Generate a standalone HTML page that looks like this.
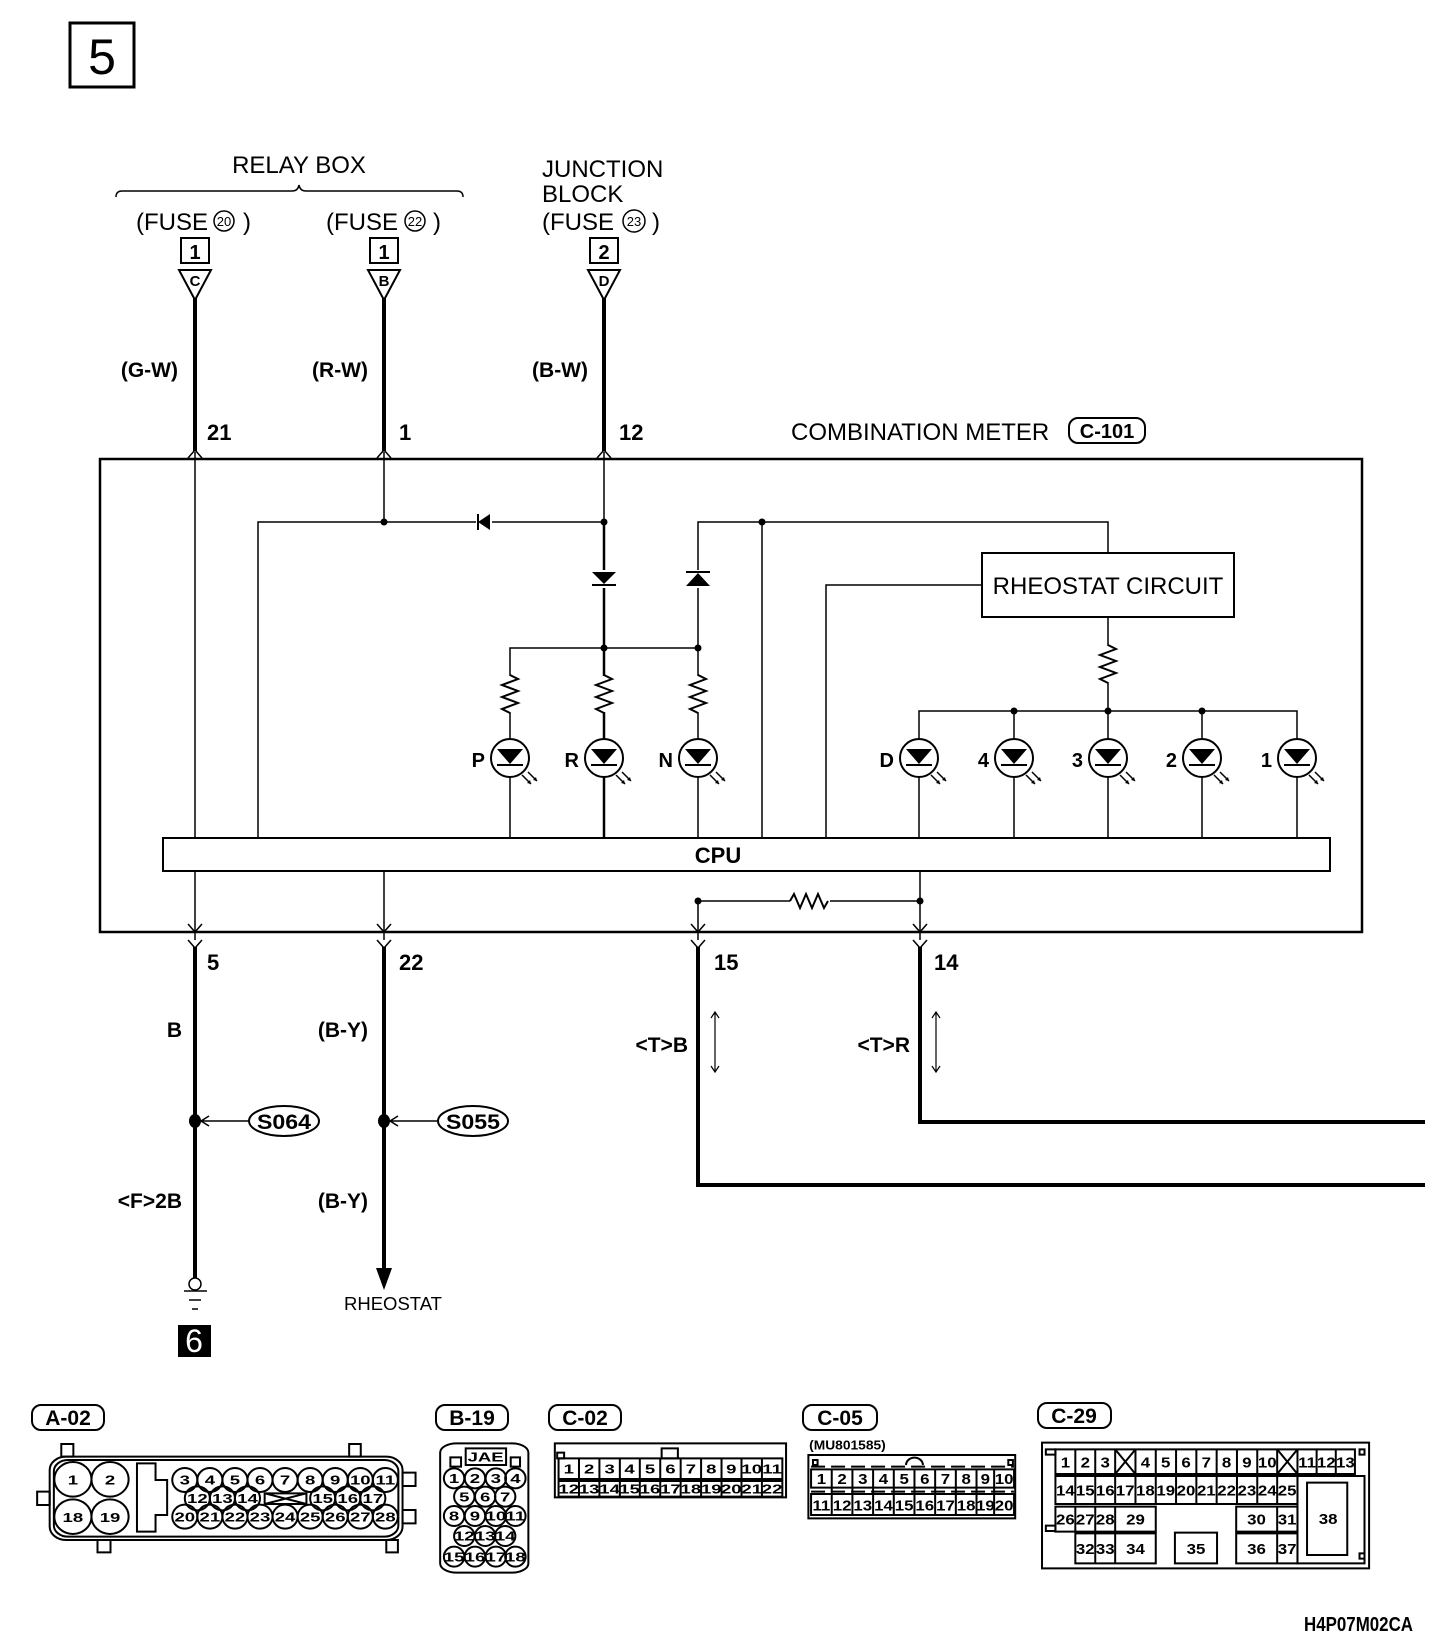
<!DOCTYPE html>
<html><head><meta charset="utf-8"><style>
html,body{margin:0;padding:0;background:#fff}
svg{display:block}
.r{font-family:"Liberation Sans",sans-serif;fill:#000}
.b{font-family:"Liberation Sans Narrow","Liberation Sans",sans-serif;font-weight:bold;fill:#000}
</style></head><body>
<svg width="1456" height="1648" viewBox="0 0 1456 1648" xmlns="http://www.w3.org/2000/svg">
<defs>
<g id="res"><path d="M0,0 l8,4 l-16,6 l16,6 l-16,6 l16,6 l-16,6 l8,4" fill="none" stroke="#000" stroke-width="2"/></g>
<g id="led"><circle cx="0" cy="0" r="19" fill="#fff" stroke="#000" stroke-width="2"/>
<path d="M-13,-9 L13,-9 L0,6 Z" fill="#000"/><line x1="-13" y1="7" x2="13" y2="7" stroke="#000" stroke-width="2"/>
<path d="M12,17 l9,9 M18,14 l9,9" stroke="#000" stroke-width="1.5"/><path d="M21,26 l-4,-1 l3,-3 Z M27,23 l-4,-1 l3,-3 Z" fill="#000"/></g>
</defs>
<rect x="70" y="23" width="64" height="64" fill="none" stroke="#000" stroke-width="3"/>
<text class="r" x="102" y="74" font-size="50" text-anchor="middle">5</text>

<text class="r" x="299" y="173" font-size="24" text-anchor="middle">RELAY BOX</text>
<path d="M116,197 q0,-6 6,-6 L292,191 q6,0 7,-6 q1,6 7,6 L457,191 q6,0 6,6" fill="none" stroke="#000" stroke-width="1.5"/>
<text class="r" x="136" y="230" font-size="24">(FUSE</text><circle cx="224" cy="221" r="10" fill="none" stroke="#000" stroke-width="1.5"/><text class="r" x="224" y="226" font-size="13" text-anchor="middle">20</text><text class="r" x="243" y="230" font-size="24">)</text>
<text class="r" x="326" y="230" font-size="24">(FUSE</text><circle cx="415" cy="221" r="10" fill="none" stroke="#000" stroke-width="1.5"/><text class="r" x="415" y="226" font-size="13" text-anchor="middle">22</text><text class="r" x="433" y="230" font-size="24">)</text>
<text class="r" x="542" y="177" font-size="24">JUNCTION</text>
<text class="r" x="542" y="202" font-size="24">BLOCK</text>
<text class="r" x="542" y="230" font-size="24">(FUSE</text><circle cx="634" cy="221" r="11" fill="none" stroke="#000" stroke-width="1.5"/><text class="r" x="634" y="226" font-size="13" text-anchor="middle">23</text><text class="r" x="652" y="230" font-size="24">)</text>

<g stroke="#000" stroke-width="2" fill="none">
<rect x="181" y="238" width="28" height="25"/><rect x="370" y="238" width="28" height="25"/><rect x="590" y="238" width="28" height="25"/>
<path d="M179,270 L211,270 L195,300 Z M368,270 L400,270 L384,300 Z M588,270 L620,270 L604,300 Z"/>
</g>
<g class="b" font-size="20" text-anchor="middle"><text x="195" y="259">1</text><text x="384" y="259">1</text><text x="604" y="259">2</text></g>
<g class="b" font-size="15" text-anchor="middle"><text x="195" y="286">C</text><text x="384" y="286">B</text><text x="604" y="286">D</text></g>

<g stroke="#000" stroke-width="4"><line x1="195" y1="298" x2="195" y2="451"/><line x1="384" y1="298" x2="384" y2="451"/><line x1="604" y1="298" x2="604" y2="451"/></g>
<g stroke="#000" stroke-width="1.5" fill="none"><path d="M188,458 L195,450 L202,458 M377,458 L384,450 L391,458 M597,458 L604,450 L611,458"/></g>
<g class="b" font-size="21" text-anchor="end"><text x="178" y="377">(G-W)</text><text x="368" y="377">(R-W)</text><text x="588" y="377">(B-W)</text></g>
<g class="b" font-size="22"><text x="207" y="440">21</text><text x="399" y="440">1</text><text x="619" y="440">12</text></g>

<text class="r" x="791" y="440" font-size="24">COMBINATION METER</text>
<rect x="1069" y="418" width="76" height="25" rx="9" fill="none" stroke="#000" stroke-width="2"/>
<text class="b" x="1107" y="438" font-size="20" text-anchor="middle">C-101</text>

<rect x="100" y="459" width="1262" height="473" fill="none" stroke="#000" stroke-width="2.5"/>
<rect x="163" y="838" width="1167" height="33" fill="#fff" stroke="#000" stroke-width="2"/>
<text class="b" x="718" y="863" font-size="22" text-anchor="middle">CPU</text>

<g stroke="#000" stroke-width="1.5" fill="none">
<line x1="195" y1="452" x2="195" y2="838"/>
<line x1="195" y1="871" x2="195" y2="940"/>
<line x1="384" y1="452" x2="384" y2="522"/>
<line x1="604" y1="452" x2="604" y2="522"/>
<path d="M258,838 L258,522 L604,522"/>
<line x1="604" y1="522" x2="604" y2="838" stroke-width="2.5"/>
<path d="M510,838 L510,648 L698,648"/>
<path d="M698,838 L698,522 L1108,522 L1108,553"/>
<line x1="762" y1="522" x2="762" y2="838"/>
<path d="M826,838 L826,585 L982,585"/>
<path d="M1108,617 L1108,711 M919,838 L919,711 L1297,711 L1297,838 M1014,711 L1014,838 M1108,711 L1108,838 M1202,711 L1202,838"/>
<line x1="384" y1="871" x2="384" y2="940"/>
<path d="M698,901 L698,940 M920,871 L920,940 M698,901 L790,901 M830,901 L920,901"/>
<path d="M188,924 L195,932 L202,924 M377,924 L384,932 L391,924 M691,924 L698,932 L705,924 M913,924 L920,932 L927,924"/>
<path d="M188,940 L195,948 L202,940 M377,940 L384,948 L391,940 M691,940 L698,948 L705,940 M913,940 L920,948 L927,940"/>
</g>
<path d="M790,901 l4,-7 l6,14 l6,-14 l6,14 l6,-14 l6,14 l4,-7" fill="none" stroke="#000" stroke-width="2"/>
<rect x="500" y="676" width="20" height="36" fill="#fff"/><rect x="594" y="676" width="20" height="36" fill="#fff"/><rect x="688" y="676" width="20" height="36" fill="#fff"/><rect x="1098" y="646" width="20" height="36" fill="#fff"/>
<use href="#res" x="510" y="675"/><use href="#res" x="604" y="675"/><use href="#res" x="698" y="675"/><use href="#res" x="1108" y="645"/>
<rect x="590" y="570" width="28" height="18" fill="#fff"/><rect x="684" y="570" width="28" height="18" fill="#fff"/><rect x="476" y="512" width="16" height="20" fill="#fff"/>
<path d="M592,572 L616,572 L604,584 Z M686,586 L710,586 L698,573 Z M490,514 L490,530 L478,522 Z" fill="#000"/>
<path d="M592,585 L616,585 M686,572 L710,572 M478,514 L478,530" stroke="#000" stroke-width="2"/>
<use href="#led" x="510" y="758"/><use href="#led" x="604" y="758"/><use href="#led" x="698" y="758"/>
<use href="#led" x="919" y="758"/><use href="#led" x="1014" y="758"/><use href="#led" x="1108" y="758"/><use href="#led" x="1202" y="758"/><use href="#led" x="1297" y="758"/>
<g class="b" font-size="20" text-anchor="end"><text x="485" y="767">P</text><text x="579" y="767">R</text><text x="673" y="767">N</text><text x="894" y="767">D</text><text x="989" y="767">4</text><text x="1083" y="767">3</text><text x="1177" y="767">2</text><text x="1272" y="767">1</text></g>
<g fill="#000"><circle cx="384" cy="522" r="3.5"/><circle cx="604" cy="522" r="3.5"/><circle cx="604" cy="648" r="3.5"/><circle cx="698" cy="648" r="3.5"/><circle cx="762" cy="522" r="3.5"/><circle cx="1014" cy="711" r="3.5"/><circle cx="1108" cy="711" r="3.5"/><circle cx="1202" cy="711" r="3.5"/><circle cx="698" cy="901" r="3.5"/><circle cx="920" cy="901" r="3.5"/></g>
<rect x="982" y="553" width="252" height="64" fill="#fff" stroke="#000" stroke-width="2"/>
<text class="r" x="1108" y="594" font-size="24" text-anchor="middle">RHEOSTAT CIRCUIT</text>

<g stroke="#000" stroke-width="4" fill="none">
<line x1="195" y1="947" x2="195" y2="1278"/>
<line x1="384" y1="947" x2="384" y2="1270"/>
<path d="M698,947 L698,1185 L1425,1185"/>
<path d="M920,947 L920,1122 L1425,1122"/>
</g>
<path d="M376,1268 L392,1268 L384,1290 Z" fill="#000"/>
<g class="b" font-size="22"><text x="207" y="970">5</text><text x="399" y="970">22</text><text x="714" y="970">15</text><text x="934" y="970">14</text></g>
<g class="b" font-size="21" text-anchor="end"><text x="182" y="1037">B</text><text x="368" y="1037">(B-Y)</text><text x="688" y="1052">&lt;T&gt;B</text><text x="910" y="1052">&lt;T&gt;R</text><text x="182" y="1208">&lt;F&gt;2B</text><text x="368" y="1208">(B-Y)</text></g>
<g stroke="#000" stroke-width="1.2" fill="none"><path d="M715,1012 L715,1072 M711,1018 L715,1012 L719,1018 M711,1066 L715,1072 L719,1066 M936,1012 L936,1072 M932,1018 L936,1012 L940,1018 M932,1066 L936,1072 L940,1066"/></g>
<ellipse cx="195" cy="1121" rx="6" ry="7" fill="#000"/><ellipse cx="384" cy="1121" rx="6" ry="7" fill="#000"/>
<g stroke="#000" stroke-width="1.5" fill="none"><path d="M249,1121 L201,1121 M209,1116 L201,1121 L209,1126 M438,1121 L390,1121 M398,1116 L390,1121 L398,1126"/></g>
<ellipse cx="284" cy="1121" rx="35" ry="15" fill="#fff" stroke="#000" stroke-width="2"/><ellipse cx="473" cy="1121" rx="35" ry="15" fill="#fff" stroke="#000" stroke-width="2"/>
<g class="b" font-size="21" text-anchor="middle"><text x="284" y="1129" textLength="54" lengthAdjust="spacingAndGlyphs">S064</text><text x="473" y="1129" textLength="54" lengthAdjust="spacingAndGlyphs">S055</text></g>
<circle cx="195" cy="1284" r="6" fill="#fff" stroke="#000" stroke-width="1.5"/>
<g stroke="#000" stroke-width="1.5"><line x1="184" y1="1291" x2="207" y2="1291"/><line x1="189" y1="1300" x2="201" y2="1300"/><line x1="192" y1="1309" x2="198" y2="1309"/></g>
<text class="r" x="344" y="1310" font-size="18.5">RHEOSTAT</text>
<rect x="178" y="1325" width="33" height="32" fill="#000"/>
<text x="194" y="1352" font-size="32" text-anchor="middle" fill="#fff" font-family="Liberation Sans,sans-serif">6</text>

<g stroke="#000" stroke-width="2" fill="none">
<rect x="32" y="1405" width="72" height="25" rx="9"/><rect x="436" y="1405" width="72" height="25" rx="9"/><rect x="549" y="1405" width="72" height="25" rx="9"/><rect x="803" y="1405" width="74" height="25" rx="9"/><rect x="1038" y="1403" width="73" height="25" rx="9"/>
</g>
<g class="b" font-size="21" text-anchor="middle"><text x="68" y="1425">A-02</text><text x="472" y="1425">B-19</text><text x="585" y="1425">C-02</text><text x="840" y="1425">C-05</text><text x="1074" y="1423">C-29</text></g>

<g transform="translate(0,1380) scale(0.4643,0.3333)">
<g fill="none" stroke="#000" stroke-width="2">
<rect x="107" y="230" width="760" height="250" rx="35" ry="40" vector-effect="non-scaling-stroke"/>
<rect x="116" y="240" width="742" height="230" rx="30" ry="34" vector-effect="non-scaling-stroke"/>
<rect x="132" y="192" width="26" height="38" vector-effect="non-scaling-stroke"/><rect x="752" y="192" width="25" height="38" vector-effect="non-scaling-stroke"/>
<rect x="80" y="335" width="27" height="40" vector-effect="non-scaling-stroke"/><rect x="867" y="278" width="28" height="40" vector-effect="non-scaling-stroke"/><rect x="867" y="390" width="28" height="40" vector-effect="non-scaling-stroke"/>
<rect x="210" y="480" width="28" height="37" vector-effect="non-scaling-stroke"/><rect x="832" y="480" width="25" height="37" vector-effect="non-scaling-stroke"/>
<ellipse cx="157" cy="298" rx="40" ry="52" vector-effect="non-scaling-stroke"/><ellipse cx="237" cy="298" rx="40" ry="52" vector-effect="non-scaling-stroke"/><ellipse cx="157" cy="410" rx="40" ry="52" vector-effect="non-scaling-stroke"/><ellipse cx="237" cy="410" rx="40" ry="52" vector-effect="non-scaling-stroke"/>
<path d="M295,250 L335,250 L335,300 L360,300 L360,405 L335,405 L335,455 L295,455 Z" vector-effect="non-scaling-stroke"/>
<path d="M570,340 L660,340 L660,372 L570,372 Z M570,340 L660,372 M570,372 L660,340" vector-effect="non-scaling-stroke"/>
<ellipse cx="398" cy="300" rx="27" ry="36" vector-effect="non-scaling-stroke"/><ellipse cx="452" cy="300" rx="27" ry="36" vector-effect="non-scaling-stroke"/><ellipse cx="506" cy="300" rx="27" ry="36" vector-effect="non-scaling-stroke"/><ellipse cx="560" cy="300" rx="27" ry="36" vector-effect="non-scaling-stroke"/><ellipse cx="614" cy="300" rx="27" ry="36" vector-effect="non-scaling-stroke"/><ellipse cx="668" cy="300" rx="27" ry="36" vector-effect="non-scaling-stroke"/><ellipse cx="722" cy="300" rx="27" ry="36" vector-effect="non-scaling-stroke"/><ellipse cx="776" cy="300" rx="27" ry="36" vector-effect="non-scaling-stroke"/><ellipse cx="830" cy="300" rx="27" ry="36" vector-effect="non-scaling-stroke"/>
<ellipse cx="425" cy="355" rx="27" ry="36" vector-effect="non-scaling-stroke"/><ellipse cx="479" cy="355" rx="27" ry="36" vector-effect="non-scaling-stroke"/><ellipse cx="533" cy="355" rx="27" ry="36" vector-effect="non-scaling-stroke"/><ellipse cx="695" cy="355" rx="27" ry="36" vector-effect="non-scaling-stroke"/><ellipse cx="749" cy="355" rx="27" ry="36" vector-effect="non-scaling-stroke"/><ellipse cx="803" cy="355" rx="27" ry="36" vector-effect="non-scaling-stroke"/>
<ellipse cx="398" cy="410" rx="27" ry="36" vector-effect="non-scaling-stroke"/><ellipse cx="452" cy="410" rx="27" ry="36" vector-effect="non-scaling-stroke"/><ellipse cx="506" cy="410" rx="27" ry="36" vector-effect="non-scaling-stroke"/><ellipse cx="560" cy="410" rx="27" ry="36" vector-effect="non-scaling-stroke"/><ellipse cx="614" cy="410" rx="27" ry="36" vector-effect="non-scaling-stroke"/><ellipse cx="668" cy="410" rx="27" ry="36" vector-effect="non-scaling-stroke"/><ellipse cx="722" cy="410" rx="27" ry="36" vector-effect="non-scaling-stroke"/><ellipse cx="776" cy="410" rx="27" ry="36" vector-effect="non-scaling-stroke"/><ellipse cx="830" cy="410" rx="27" ry="36" vector-effect="non-scaling-stroke"/>
<rect x="948" y="190" width="190" height="388" rx="35" ry="28" vector-effect="non-scaling-stroke"/>
<rect x="1003" y="205" width="87" height="50" vector-effect="non-scaling-stroke"/>
<rect x="970" y="232" width="23" height="28" vector-effect="non-scaling-stroke"/><rect x="1100" y="232" width="20" height="28" vector-effect="non-scaling-stroke"/>
<ellipse cx="978" cy="295" rx="22" ry="30" vector-effect="non-scaling-stroke"/><ellipse cx="1023" cy="295" rx="22" ry="30" vector-effect="non-scaling-stroke"/><ellipse cx="1068" cy="295" rx="22" ry="30" vector-effect="non-scaling-stroke"/><ellipse cx="1110" cy="295" rx="22" ry="30" vector-effect="non-scaling-stroke"/>
<ellipse cx="1000" cy="350" rx="22" ry="30" vector-effect="non-scaling-stroke"/><ellipse cx="1045" cy="350" rx="22" ry="30" vector-effect="non-scaling-stroke"/><ellipse cx="1088" cy="350" rx="22" ry="30" vector-effect="non-scaling-stroke"/>
<ellipse cx="978" cy="408" rx="22" ry="30" vector-effect="non-scaling-stroke"/><ellipse cx="1023" cy="408" rx="22" ry="30" vector-effect="non-scaling-stroke"/><ellipse cx="1068" cy="408" rx="22" ry="30" vector-effect="non-scaling-stroke"/><ellipse cx="1110" cy="408" rx="22" ry="30" vector-effect="non-scaling-stroke"/>
<ellipse cx="1000" cy="468" rx="22" ry="30" vector-effect="non-scaling-stroke"/><ellipse cx="1045" cy="468" rx="22" ry="30" vector-effect="non-scaling-stroke"/><ellipse cx="1088" cy="468" rx="22" ry="30" vector-effect="non-scaling-stroke"/>
<ellipse cx="978" cy="530" rx="22" ry="30" vector-effect="non-scaling-stroke"/><ellipse cx="1023" cy="530" rx="22" ry="30" vector-effect="non-scaling-stroke"/><ellipse cx="1068" cy="530" rx="22" ry="30" vector-effect="non-scaling-stroke"/><ellipse cx="1110" cy="530" rx="22" ry="30" vector-effect="non-scaling-stroke"/>
<rect x="1195" y="190" width="498" height="162" vector-effect="non-scaling-stroke"/>
<rect x="1200" y="218" width="15" height="17" vector-effect="non-scaling-stroke"/><rect x="1425" y="205" width="35" height="30" vector-effect="non-scaling-stroke"/>
<path d="M1203,235 h482 v62 h-482 Z M1203,303 h482 v47 h-482 Z M1247,235 v115 M1291,235 v115 M1335,235 v115 M1378,235 v115 M1422,235 v115 M1466,235 v115 M1510,235 v115 M1554,235 v115 M1597,235 v115 M1641,235 v115" vector-effect="non-scaling-stroke"/>
</g>
<g class="b" font-size="40" text-anchor="middle">
<text x="157" y="314">1</text><text x="237" y="314">2</text><text x="157" y="426">18</text><text x="237" y="426">19</text>
<text x="398" y="314">3</text><text x="452" y="314">4</text><text x="506" y="314">5</text><text x="560" y="314">6</text><text x="614" y="314">7</text><text x="668" y="314">8</text><text x="722" y="314">9</text><text x="776" y="314">10</text><text x="830" y="314">11</text>
<text x="425" y="369">12</text><text x="479" y="369">13</text><text x="533" y="369">14</text><text x="695" y="369">15</text><text x="749" y="369">16</text><text x="803" y="369">17</text>
<text x="398" y="424">20</text><text x="452" y="424">21</text><text x="506" y="424">22</text><text x="560" y="424">23</text><text x="614" y="424">24</text><text x="668" y="424">25</text><text x="722" y="424">26</text><text x="776" y="424">27</text><text x="830" y="424">28</text>
<text x="1046" y="245">JAE</text>
<text x="978" y="309">1</text><text x="1023" y="309">2</text><text x="1068" y="309">3</text><text x="1110" y="309">4</text>
<text x="1000" y="364">5</text><text x="1045" y="364">6</text><text x="1088" y="364">7</text>
<text x="978" y="422">8</text><text x="1023" y="422">9</text><text x="1068" y="422">10</text><text x="1110" y="422">11</text>
<text x="1000" y="482">12</text><text x="1045" y="482">13</text><text x="1088" y="482">14</text>
<text x="978" y="544">15</text><text x="1023" y="544">16</text><text x="1068" y="544">17</text><text x="1110" y="544">18</text>
<text x="1225" y="281">1</text><text x="1269" y="281">2</text><text x="1313" y="281">3</text><text x="1356" y="281">4</text><text x="1400" y="281">5</text><text x="1444" y="281">6</text><text x="1488" y="281">7</text><text x="1532" y="281">8</text><text x="1575" y="281">9</text><text x="1619" y="281">10</text><text x="1663" y="281">11</text>
<text x="1225" y="341">12</text><text x="1269" y="341">13</text><text x="1313" y="341">14</text><text x="1356" y="341">15</text><text x="1400" y="341">16</text><text x="1444" y="341">17</text><text x="1488" y="341">18</text><text x="1532" y="341">19</text><text x="1575" y="341">20</text><text x="1619" y="341">21</text><text x="1663" y="341">22</text>
</g>
</g>

<g transform="translate(790,1400) scale(0.383,0.3333)">
<g fill="none" stroke="#000" stroke-width="2">
<rect x="48" y="165" width="540" height="190" vector-effect="non-scaling-stroke"/>
<rect x="60" y="180" width="12" height="15" vector-effect="non-scaling-stroke"/><rect x="570" y="180" width="12" height="15" vector-effect="non-scaling-stroke"/>
<path d="M303,195 a22,22 0 0 1 44,0" vector-effect="non-scaling-stroke"/>
<path d="M55,200 h530 M55,275 h530" stroke-dasharray="14,6" vector-effect="non-scaling-stroke"/>
<path d="M55,208 h530 v55 h-530 Z M55,282 h530 v63 h-530 Z M109,208 v137 M163,208 v137 M217,208 v137 M271,208 v137 M325,208 v137 M379,208 v137 M433,208 v137 M487,208 v137 M533,208 v137" vector-effect="non-scaling-stroke"/>
<rect x="658" y="128" width="854" height="377" vector-effect="non-scaling-stroke"/>
<path d="M668,148 h25 v16 h-25 Z M668,377 h25 v16 h-25 Z M1487,148 h13 v16 h-13 Z M1487,460 h13 v16 h-13 Z" vector-effect="non-scaling-stroke"/>
<path d="M693,148 h782 v74 h-782 Z M745,148 v74 M797,148 v74 M849,148 v74 M902,148 v74 M955,148 v74 M1008,148 v74 M1061,148 v74 M1114,148 v74 M1167,148 v74 M1220,148 v74 M1272,148 v74 M1325,148 v74 M1375,148 v74 M1425,148 v74 M849,148 L902,222 M902,148 L849,222 M1272,148 L1325,222 M1325,148 L1272,222" vector-effect="non-scaling-stroke"/>
<path d="M693,228 h632 v84 h-632 Z M745,228 v84 M797,228 v84 M849,228 v84 M902,228 v84 M955,228 v84 M1008,228 v84 M1061,228 v84 M1114,228 v84 M1167,228 v84 M1220,228 v84 M1272,228 v84" vector-effect="non-scaling-stroke"/>
<path d="M693,320 h262 v75 h-262 Z M745,320 v75 M797,320 v75 M849,320 v75 M1165,320 h160 v75 h-160 Z M1272,320 v75" vector-effect="non-scaling-stroke"/>
<path d="M745,400 h210 v90 h-210 Z M797,400 v90 M849,400 v90 M1005,398 h110 v92 h-110 Z M1165,400 h160 v90 h-160 Z M1272,400 v90" vector-effect="non-scaling-stroke"/>
<path d="M1325,228 h175 v262 h-175 Z M1350,248 h105 v217 h-105 Z" vector-effect="non-scaling-stroke"/>
</g>
<g class="b" font-size="44" text-anchor="middle">
<text x="150" y="148" font-size="40" textLength="200" lengthAdjust="spacingAndGlyphs">(MU801585)</text>
<text x="82" y="252">1</text><text x="136" y="252">2</text><text x="190" y="252">3</text><text x="244" y="252">4</text><text x="298" y="252">5</text><text x="352" y="252">6</text><text x="406" y="252">7</text><text x="460" y="252">8</text><text x="510" y="252">9</text><text x="559" y="252">10</text>
<text x="82" y="332">11</text><text x="136" y="332">12</text><text x="190" y="332">13</text><text x="244" y="332">14</text><text x="298" y="332">15</text><text x="352" y="332">16</text><text x="406" y="332">17</text><text x="460" y="332">18</text><text x="510" y="332">19</text><text x="559" y="332">20</text>
<text x="719" y="202">1</text><text x="771" y="202">2</text><text x="823" y="202">3</text><text x="928" y="202">4</text><text x="981" y="202">5</text><text x="1034" y="202">6</text><text x="1087" y="202">7</text><text x="1140" y="202">8</text><text x="1193" y="202">9</text><text x="1246" y="202">10</text><text x="1350" y="202">11</text><text x="1400" y="202">12</text><text x="1450" y="202">13</text>
<text x="719" y="286">14</text><text x="771" y="286">15</text><text x="823" y="286">16</text><text x="875" y="286">17</text><text x="928" y="286">18</text><text x="981" y="286">19</text><text x="1034" y="286">20</text><text x="1087" y="286">21</text><text x="1140" y="286">22</text><text x="1193" y="286">23</text><text x="1246" y="286">24</text><text x="1298" y="286">25</text>
<text x="719" y="374">26</text><text x="771" y="374">27</text><text x="823" y="374">28</text><text x="902" y="374">29</text><text x="1218" y="374">30</text><text x="1298" y="374">31</text>
<text x="771" y="462">32</text><text x="823" y="462">33</text><text x="902" y="462">34</text><text x="1060" y="462">35</text><text x="1218" y="462">36</text><text x="1298" y="462">37</text>
<text x="1405" y="372">38</text>
</g>
</g>

<text class="b" x="1304" y="1631" font-size="20" textLength="109" lengthAdjust="spacingAndGlyphs">H4P07M02CA</text>
</svg>
</body></html>
